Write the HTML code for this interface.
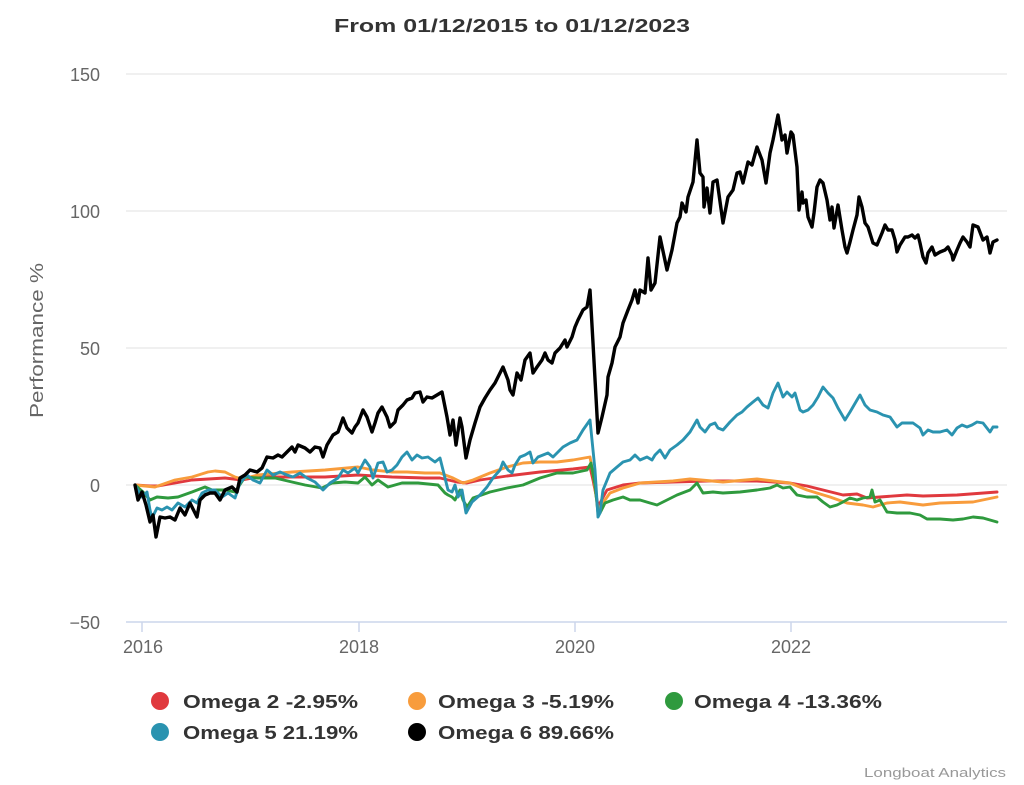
<!DOCTYPE html>
<html>
<head>
<meta charset="utf-8">
<style>
html,body{margin:0;padding:0;background:#fff;}
svg{display:block;}
text{font-family:"Liberation Sans","DejaVu Sans",sans-serif;}
</style>
</head>
<body>
<svg width="1024" height="785" viewBox="0 0 1024 785" xmlns="http://www.w3.org/2000/svg">
<rect width="1024" height="785" fill="#fff"/>
<text x="334" y="32" font-size="18" font-weight="bold" fill="#333" textLength="356" lengthAdjust="spacingAndGlyphs">From 01/12/2015 to 01/12/2023</text>

<g stroke="#e6e6e6" stroke-width="1.2">
<line x1="126" y1="74" x2="1007" y2="74"/>
<line x1="126" y1="211" x2="1007" y2="211"/>
<line x1="126" y1="348" x2="1007" y2="348"/>
<line x1="126" y1="485" x2="1007" y2="485"/>
</g>
<g stroke="#ccd6eb" stroke-width="1.5">
<line x1="126" y1="622" x2="1007" y2="622"/>
<line x1="142" y1="622" x2="142" y2="632"/>
<line x1="359" y1="622" x2="359" y2="632"/>
<line x1="575" y1="622" x2="575" y2="632"/>
<line x1="791" y1="622" x2="791" y2="632"/>
</g>

<g font-size="18" fill="#666" text-anchor="end">
<text x="100" y="81">150</text>
<text x="100" y="218">100</text>
<text x="100" y="355">50</text>
<text x="100" y="492">0</text>
<text x="100" y="629">−50</text>
</g>
<g font-size="18" fill="#666" text-anchor="middle">
<text x="143" y="653">2016</text>
<text x="359" y="653">2018</text>
<text x="575" y="653">2020</text>
<text x="791" y="653">2022</text>
</g>
<text transform="translate(43,418) rotate(-90)" font-size="18" fill="#666" textLength="155" lengthAdjust="spacingAndGlyphs">Performance %</text>

<g fill="none" stroke-linejoin="round" stroke-linecap="round">
<polyline stroke="#e0393e" stroke-width="2.9" points="135,485 150,486 158,486 175,483 192,480 225,478 242,480 258,477 292,477 325,477 358,475 392,477 425,478 440,478 457,482 467,483 480,480 507,476 540,472 573,469 590,467 593,480 598,505 600,503 607,490 623,485 640,483 673,482 707,481 757,481 790,483 807,486 823,490 843,495 857,494 867,498 880,497 907,495 923,496 957,495 997,492"/>
<polyline stroke="#f89c3c" stroke-width="2.9" points="135,485 155,487 175,480 192,477 208,472 215,471 225,472 235,477 242,479 258,475 292,472 325,470 358,467 373,470 392,472 407,472 425,473 440,473 453,478 463,483 473,480 490,473 507,467 523,463 540,462 557,462 573,460 590,457 594,480 598,510 600,507 610,493 623,488 640,483 673,481 690,479 723,482 757,479 790,483 807,490 830,497 847,503 863,505 873,507 887,503 900,502 923,505 940,503 973,502 997,497"/>
<polyline stroke="#2f9a3e" stroke-width="2.9" points="135,485 143,492 150,500 157,497 168,498 178,497 192,492 205,487 212,490 225,490 235,492 245,477 258,478 275,478 292,482 305,485 322,488 332,483 345,482 358,483 365,477 372,485 378,480 388,487 402,483 418,483 438,485 445,493 448,495 452,497 455,500 460,490 463,500 467,507 473,498 490,492 507,488 523,485 540,478 557,473 573,473 587,470 591,463 595,485 598,513 600,513 605,503 613,500 623,497 630,500 640,500 650,503 657,505 667,500 677,495 690,490 697,483 703,493 713,492 723,493 740,492 757,490 770,488 777,485 783,488 790,487 797,495 807,497 817,497 823,502 830,507 837,505 843,502 850,498 857,500 863,498 870,497 872,490 875,502 880,500 887,512 897,513 910,513 920,515 927,519 940,519 953,520 963,519 973,517 983,518 997,522"/>
<polyline stroke="#2a93b0" stroke-width="2.9" points="135,485 142,497 147,492 150,510 152,518 157,508 162,510 167,507 172,510 178,503 185,507 192,500 197,503 202,493 208,490 215,490 222,497 228,493 235,498 240,483 247,475 253,480 260,483 267,470 273,475 280,472 287,475 293,477 300,473 307,478 315,482 323,490 330,483 338,478 343,470 348,473 355,468 358,473 365,460 370,467 373,478 378,463 383,462 387,472 392,470 397,465 402,457 407,452 412,460 417,455 422,458 428,457 435,462 440,458 445,478 448,490 452,492 455,485 458,497 462,490 466,513 472,502 480,495 487,487 493,478 500,470 503,462 508,470 512,473 515,465 520,457 525,455 530,452 533,463 538,457 543,455 548,453 553,457 558,452 563,447 570,443 577,440 583,430 590,420 595,470 598,517 600,513 603,490 610,473 617,467 623,462 630,460 635,455 640,460 647,457 652,460 655,455 660,450 665,458 670,450 677,445 683,440 690,432 697,420 700,427 705,432 710,425 715,423 718,428 723,430 730,422 737,415 742,412 747,407 753,402 758,398 763,405 768,408 773,393 778,383 783,397 787,392 792,397 795,393 800,410 803,412 808,410 813,405 818,397 823,387 828,393 833,398 838,408 845,420 850,412 857,400 860,395 865,405 870,410 877,412 883,415 890,417 897,427 902,423 907,423 913,423 920,428 923,435 928,430 933,432 940,432 947,430 952,435 957,428 962,425 967,427 972,425 977,422 983,423 990,432 993,427 997,427"/>
<polyline stroke="#000" stroke-width="3.4" points="135,485 138,500 142,492 146,505 150,522 153,515 156,537 160,517 165,518 170,517 175,520 180,508 185,515 190,503 197,517 200,500 205,495 210,493 215,493 220,500 225,490 232,487 237,492 240,478 245,475 250,470 257,472 262,468 267,457 273,458 278,455 282,457 287,452 292,447 295,452 298,445 305,448 310,452 315,447 320,448 323,457 327,445 333,435 338,432 343,418 347,428 352,433 355,427 358,423 363,410 367,417 372,432 375,423 378,413 382,407 387,417 390,427 395,422 398,410 403,405 407,400 412,398 415,393 420,392 423,402 427,397 432,398 437,395 442,392 447,417 450,435 453,420 456,445 460,418 462,427 466,458 470,440 475,423 480,407 485,398 490,390 495,383 500,373 503,367 508,380 510,390 513,395 517,373 521,380 525,360 530,353 533,373 537,367 542,360 545,353 548,360 552,363 555,353 560,348 565,340 567,347 572,337 575,327 578,320 583,310 587,307 590,290 593,343 598,433 602,417 607,395 608,377 612,363 615,347 620,337 623,323 628,310 632,300 635,290 638,303 640,290 645,293 648,258 651,290 655,283 660,237 667,270 672,250 677,223 680,217 682,203 686,212 688,197 693,182 697,140 700,173 703,177 704,207 707,188 710,213 713,182 717,180 723,223 728,197 733,190 737,173 740,172 743,183 748,162 752,165 757,147 762,160 766,183 770,153 773,140 778,115 782,140 785,135 787,153 791,132 793,135 797,167 799,210 802,192 803,203 806,200 808,217 812,227 814,213 817,187 820,180 823,183 827,200 830,220 832,207 834,228 838,205 842,230 845,247 847,253 850,242 853,230 857,215 859,197 862,207 865,223 868,227 873,243 877,245 882,233 885,225 888,230 892,230 895,240 897,252 900,245 905,237 908,237 912,235 915,238 918,235 920,243 923,257 926,263 928,253 932,247 935,255 940,252 945,250 948,247 952,255 953,260 957,250 960,243 963,237 967,242 970,247 973,225 978,227 983,240 987,237 990,253 993,242 997,240"/>
</g>

<g font-size="18" font-weight="bold" fill="#333">
<circle cx="160" cy="701" r="9" fill="#e0393e"/>
<text x="183" y="708" textLength="175" lengthAdjust="spacingAndGlyphs">Omega 2 -2.95%</text>
<circle cx="417" cy="701" r="9" fill="#f89c3c"/>
<text x="438" y="708" textLength="176" lengthAdjust="spacingAndGlyphs">Omega 3 -5.19%</text>
<circle cx="674" cy="701" r="9" fill="#2f9a3e"/>
<text x="694" y="708" textLength="188" lengthAdjust="spacingAndGlyphs">Omega 4 -13.36%</text>
<circle cx="160" cy="732" r="9" fill="#2a93b0"/>
<text x="183" y="739" textLength="175" lengthAdjust="spacingAndGlyphs">Omega 5 21.19%</text>
<circle cx="417" cy="732" r="9" fill="#000"/>
<text x="438" y="739" textLength="176" lengthAdjust="spacingAndGlyphs">Omega 6 89.66%</text>
</g>

<text x="864" y="777" font-size="13" fill="#999" textLength="142" lengthAdjust="spacingAndGlyphs">Longboat Analytics</text>
</svg>
</body>
</html>
